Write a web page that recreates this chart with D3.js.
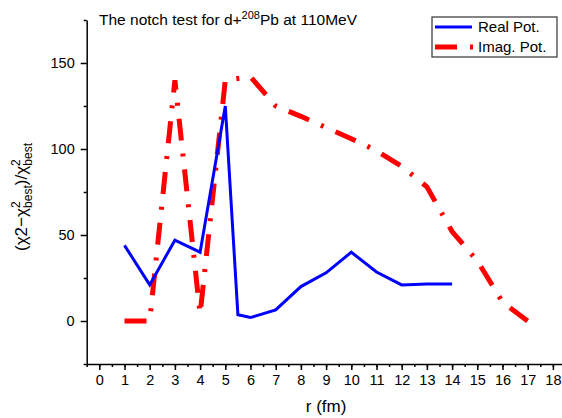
<!DOCTYPE html>
<html>
<head>
<meta charset="utf-8">
<script src="https://cdn.jsdelivr.net/npm/d3@7"></script>
<style>
  body { margin: 0; background: #fff; }
  svg { font-family: "Liberation Sans", Arial, sans-serif; }
</style>
</head>
<body>
<div id="chart"></div>
<script>
// data
const realR = [1, 2, 3, 4, 5, 5.5, 6, 7, 8, 9, 10, 11, 12, 13, 14];
const realV = [44, 21, 47, 40, 125, 3.6, 2, 6.5, 20, 28, 40, 28.5, 21, 21.5, 21.5];
const imagR = [1, 2, 3, 4, 5, 6, 7, 8, 9, 10, 11, 12, 13, 14, 15, 16, 17];
const imagV = [0, 0, 140, 4, 140, 142, 125, 119, 112.5, 106, 99, 90, 78, 52, 35, 11, 0];
const xTicks = d3.range(0, 19);
const yTicks = [0, 50, 100, 150];

const width = 562;
const height = 418;

// append the svg object to the body of the page
const svg = d3.select("#chart")
  .append("svg")
    .attr("width", width)
    .attr("height", height);

// scales
const x = d3.scaleLinear().domain([-0.5, 18.5]).range([86.7, 565.5]);
const y = d3.scaleLinear().domain([-25, 175]).range([364, 20]);

// minor ticks first so major ones draw on top
svg.append("g")
    .attr("transform", `translate(0,${y(-25)})`)
    .call(d3.axisBottom(x).tickValues(d3.range(-0.5, 18.6, 0.5)).tickSize(3).tickSizeOuter(0).tickFormat(""))
    .call(g => g.select(".domain").remove());
svg.append("g")
    .attr("transform", `translate(${x(-0.5)},0)`)
    .call(d3.axisLeft(y).tickValues([-25, 25, 75, 125, 175]).tickSize(3).tickSizeOuter(0).tickFormat(""))
    .call(g => g.select(".domain").remove());

// x axis
const xAxis = svg.append("g")
    .attr("transform", `translate(0,${y(-25)})`)
    .call(d3.axisBottom(x).tickValues(xTicks).tickSize(6).tickSizeOuter(0).tickPadding(5));
xAxis.selectAll("text").style("font-size", "14.5px").style("fill", "#000");

// y axis
const yAxis = svg.append("g")
    .attr("transform", `translate(${x(-0.5)},0)`)
    .call(d3.axisLeft(y).tickValues(yTicks).tickSize(6).tickSizeOuter(0).tickPadding(6));
yAxis.selectAll("text").style("font-size", "14.5px").style("fill", "#000");

svg.selectAll(".domain, .tick line").attr("stroke", "#000").attr("stroke-width", 1.5);

// lines
const line = d3.line().x(d => x(d[0])).y(d => y(d[1]));

svg.append("path")
    .datum(d3.zip(imagR, imagV))
    .attr("d", line)
    .attr("fill", "none")
    .attr("stroke", "#ff0000")
    .attr("stroke-width", 5)
    .attr("stroke-dasharray", "22,13,3,13");

svg.append("path")
    .datum(d3.zip(realR, realV))
    .attr("d", line)
    .attr("fill", "none")
    .attr("stroke", "#0000ff")
    .attr("stroke-width", 3);

// title
const title = svg.append("text")
    .attr("x", 99)
    .attr("y", 25)
    .style("font-size", "15.5px");
title.append("tspan").text("The notch test for d+");
title.append("tspan").attr("dy", -6).style("font-size", "11px").text("208");
title.append("tspan").attr("dy", 6).text("Pb at 110MeV");

// axis titles
svg.append("text")
    .attr("x", x(9))
    .attr("y", 412)
    .attr("text-anchor", "middle")
    .style("font-size", "17px")
    .text("r (fm)");

const ylab = svg.append("text")
    .attr("transform", "translate(27,197) rotate(-90)")
    .attr("text-anchor", "middle")
    .style("font-size", "17px");
ylab.append("tspan").text("(χ2−χ");
ylab.append("tspan").attr("dy", -7).style("font-size", "12px").text("2");
ylab.append("tspan").attr("dx", -6.5).attr("dy", 12).style("font-size", "12px").text("best");
ylab.append("tspan").attr("dy", -5).text(")/χ");
ylab.append("tspan").attr("dy", -7).style("font-size", "12px").text("2");
ylab.append("tspan").attr("dx", -6.5).attr("dy", 12).style("font-size", "12px").text("best");

// legend
const legend = svg.append("g");
legend.append("rect")
    .attr("x", 432).attr("y", 17).attr("width", 125).attr("height", 40)
    .attr("fill", "#fff").attr("stroke", "#333").attr("stroke-width", 1.2);
legend.append("line")
    .attr("x1", 435).attr("x2", 472).attr("y1", 27).attr("y2", 27)
    .attr("stroke", "#0000ff").attr("stroke-width", 3);
legend.append("line")
    .attr("x1", 435).attr("x2", 475).attr("y1", 47).attr("y2", 47)
    .attr("stroke", "#ff0000").attr("stroke-width", 5)
    .attr("stroke-dasharray", "22,13,3,13");
legend.append("text").attr("x", 478).attr("y", 32).style("font-size", "15px").text("Real Pot.");
legend.append("text").attr("x", 478).attr("y", 52).style("font-size", "15px").text("Imag. Pot.");
</script>
</body>
</html>
